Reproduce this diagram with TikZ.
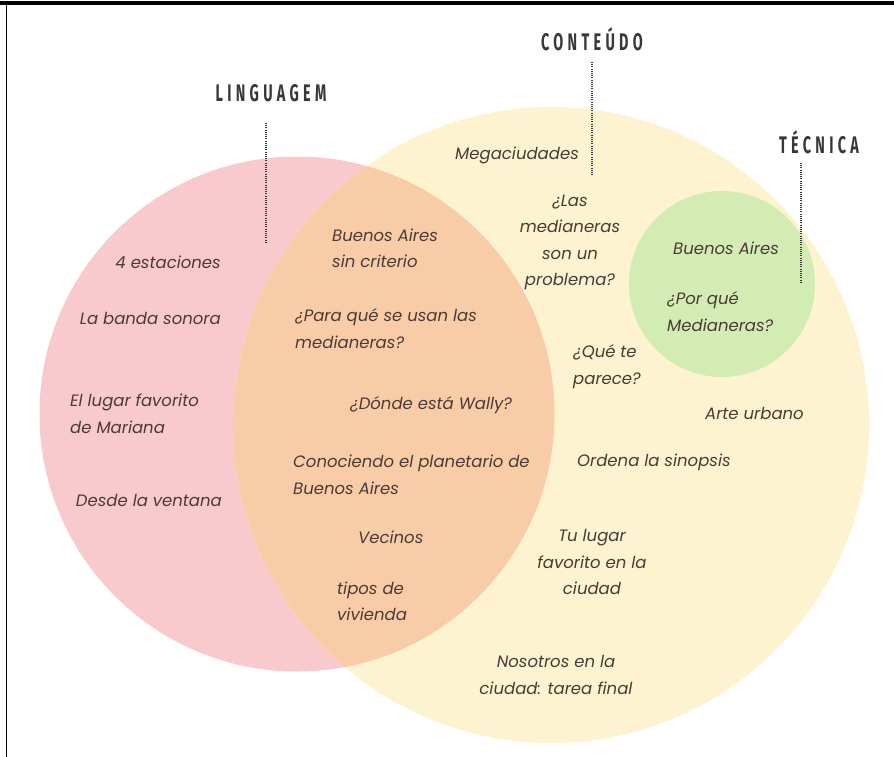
\documentclass[tikz,border=0pt]{standalone}
\usepackage{fontspec}
\setmainfont{Poppins}
\newfontfamily\itemfont{Poppins}
\newfontfamily\headfont[FakeStretch=0.6,LetterSpace=18]{Fira Sans}

\definecolor{pinkc}{HTML}{F9CACD}
\definecolor{peach}{HTML}{F9CCA8}
\definecolor{cream}{HTML}{FDF3D0}
\definecolor{greenc}{HTML}{D3ECB4}
\definecolor{inkc}{HTML}{4B3B36}
\definecolor{headc}{HTML}{383838}

\tikzset{
  item/.style={font=\itemfont\itshape\fontsize{16.5}{26.5}\selectfont, text=inkc, inner sep=0pt},
  head/.style={font=\headfont\bfseries\fontsize{24}{24}\selectfont, text=headc, inner sep=0pt},
  leader/.style={draw=headc, line width=1.6pt, dash pattern=on 1pt off 1.2pt}
}

\begin{document}
\begin{tikzpicture}[x=1pt,y=-1pt]
\useasboundingbox (0,0) rectangle (894,757);

% frame of the cell
\draw[line width=3.5pt] (0,3.25) -- (894,3.25);
\draw[line width=1.5pt] (6.5,5) -- (6.5,757);

% circles
\def\pinkcirc{(297,414) circle[radius=257.5]}
\def\yelcirc{(551,425) circle[radius=318]}
\fill[pinkc] \pinkcirc;
\fill[cream] \yelcirc;
\begin{scope}
  \clip \pinkcirc;
  \fill[peach] \yelcirc;
\end{scope}
\fill[greenc] (722,284) circle[radius=93];

% headings and leaders
\node[head] (hleng) at (271,93) {LINGUAGEM};
\node[head] (hcont) at (592,39) {CONTEÚDO};
\node[head] (htec)  at (819,142) {TÉCNICA};
\coordinate (lengtop) at (266,123);
\coordinate (lengbot) at (266,242);
\coordinate (conttop) at (592,62);
\coordinate (contbot) at (592,176);
\coordinate (tectop) at (801,163);
\coordinate (tecbot) at (801,282);
\draw[leader] (lengtop) -- (lengbot);
\draw[leader] (conttop) -- (contbot);
\draw[leader] (tectop) -- (tecbot);

% LINGUAGEM only
\node[item, anchor=east] (n1) at (221,262) {4 estaciones};
\node[item, anchor=east] (n2) at (221,318) {La banda sonora};
\node[item, anchor=west, align=left] (n3) at (70,414) {El lugar favorito\\de Mariana};
\node[item, anchor=east] (n4) at (222,500) {Desde la ventana};

% overlap
\node[item, anchor=west, align=left] (n5) at (332,248.5) {Buenos Aires\\sin criterio};
\node[item, anchor=west, align=left] (n6) at (295,328.5) {¿Para qué se usan las\\medianeras?};
\node[item, anchor=west] (n7) at (350,405) {¿Dónde está Wally?};
\node[item, anchor=west, align=left] (n8) at (293,475) {Conociendo el planetario de\\Buenos Aires};
\node[item, anchor=west] (n9) at (358,537) {Vecinos};
\node[item, anchor=west, align=left] (n10) at (337,601.5) {tipos de\\vivienda};

% CONTEÚDO
\node[item, anchor=west] (n11) at (455,155) {Megaciudades};
\node[item, align=center] (n12) at (570,242.5) {¿Las\\medianeras\\son un\\problema?};
\node[item, anchor=west, align=left] (n13) at (573,366.5) {¿Qué te\\parece?};
\node[item, anchor=west] (n14) at (577,462) {Ordena la sinopsis};
\node[item, align=center] (n15) at (592,562) {Tu lugar\\favorito en la\\ciudad};
\node[item, align=center] (n16) at (556,675) {Nosotros en la\\ciudad: tarea final};
\node[item, anchor=west] (n17) at (705,413) {Arte urbano};

% TÉCNICA
\node[item, anchor=west] (n18) at (673,248) {Buenos Aires};
\node[item, anchor=west, align=left] (n19) at (667,311.5) {¿Por qué\\Medianeras?};
\end{tikzpicture}
\end{document}
